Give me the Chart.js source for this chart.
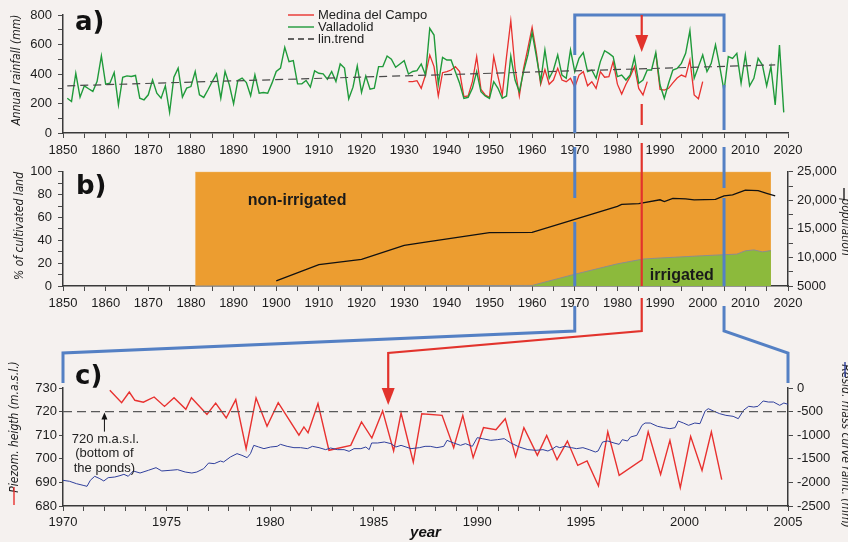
<!DOCTYPE html>
<html><head><meta charset="utf-8">
<script src="https://cdn.jsdelivr.net/npm/chart.js@4.4.1/dist/chart.umd.min.js"></script>
<style>
html,body{margin:0;padding:0;background:#f5f1ef;}
#wrap{position:relative;width:848px;height:542px;overflow:hidden;background:#f5f1ef;}
canvas{position:absolute;left:0;}
</style></head><body>
<div id="wrap">
<canvas id="ca" width="848" height="160" style="top:0px"></canvas>
<canvas id="cb" width="848" height="160" style="top:158px"></canvas>
<canvas id="cc" width="848" height="224" style="top:318px"></canvas>
<canvas id="overlay" style="top:0px;pointer-events:none"></canvas>
</div>
<script>
// ---------- DATA ----------
// a) annual rainfall (mm)
const RAIN_FIRST_YEAR = 1851;
const valladolidRain = [
236,214,405,243,320,300,282,350,522,331,
338,410,191,378,387,383,390,236,225,259,
360,270,236,320,140,378,440,243,304,315,
417,259,241,293,349,401,236,417,327,198,
356,372,342,252,394,270,275,270,338,417,
440,581,484,491,333,333,356,311,421,405,
401,365,417,349,468,440,232,311,455,275,
387,297,304,450,450,522,500,446,468,491,
400,417,423,468,393,710,664,330,513,495,
495,416,337,235,242,303,416,280,251,235,
348,303,235,251,522,359,280,416,529,680,
520,348,563,371,427,529,393,371,563,416,
506,545,416,427,371,484,558,540,518,382,
393,359,393,513,337,359,427,427,545,325,
235,337,427,438,472,540,694,371,450,529,
416,472,597,450,285,518,506,540,337,529,
320,371,506,461,320,450,190,597,140];
const MEDINA_FIRST_YEAR = 1931;
const medinaRain = [
348,348,355,303,393,529,450,251,409,416,
427,450,416,246,251,348,518,296,258,242,
518,382,258,518,761,439,251,439,574,717,
545,330,430,331,359,438,359,348,371,310,
393,416,320,348,302,416,378,382,484,331,
264,331,384,450,302,258,348,null,540,296,
291,303,340,373,393,380,495,258,232,348];
const trendYears = [1851, 2017];
const trendRain = [320, 462];

// b) cultivated land and population
const cultivatedYears = [1881, 2016];
const cultivatedTotal = [100, 100];
const irrigatedYears = [1881,1960,1970,1980,1986,1990,2000,2005,2008,2010,2012,2014,2016];
const irrigatedPct   = [0,0.5,10.3,19.4,23.6,24.5,26.5,27.4,27.9,30.8,31.6,29.9,31];
const popYears = [1900,1910,1920,1930,1935,1950,1960,1970,1980,1981,1985,1990,1991,1993,1996,1998,2003,2005,2007,2010,2013,2015,2017];
const popVals  = [5900,8760,9670,12120,12690,14340,14400,16680,18960,19300,19410,20100,19800,20330,20270,20100,20160,20780,20950,21800,21700,21240,20780];

// c) piezometric height and residual mass curve
const pondYears = [1970, 2005];
const pondLevel = [720, 720];
const piezoYears = [1972.26,1972.83,1973.2,1973.47,1973.88,1974.4,1974.9,1975.36,1975.93,1976.2,1976.95,1977.37,1977.88,1978.34,1978.84,1979.32,1979.85,1980.39,1981.39,1981.63,1981.83,1982.31,1982.84,1983.89,1984.41,1984.91,1985.43,1985.96,1986.32,1986.91,1987.32,1988.3,1988.86,1989.3,1989.8,1990.3,1990.9,1991.35,1991.85,1992.25,1992.9,1993.35,1993.85,1994.35,1994.85,1995.3,1995.85,1996.3,1996.85,1997.95,1998.25,1998.85,1999.3,1999.8,2000.3,2000.85,2001.3,2001.8];
const piezoLevel = [729,723.8,728.3,724.8,724,726.2,722.2,725.9,721,725.9,718.8,723.6,717.3,725.1,704.3,725.8,713.8,723.8,710,713.5,711,723.4,703.6,705.7,715.6,708.8,720.3,703.3,719.4,698.6,719.1,718.4,704.7,718.4,700.5,713.2,712.3,717,701,713.2,701.5,709.9,699.6,707.5,697.2,699.1,688.5,711.4,693,699.6,711.4,693.4,707.8,687.8,709.5,695.1,711.4,691.2];
const massYears = [1970.0,1970.32,1970.65,1970.97,1971.16,1971.32,1971.53,1971.78,1971.97,1972.18,1972.5,1972.75,1972.94,1973.15,1973.39,1973.72,1974.12,1974.49,1974.77,1975.17,1975.53,1975.9,1976.22,1976.46,1976.79,1977.03,1977.3,1977.6,1977.75,1978.08,1978.4,1978.64,1978.89,1979.05,1979.21,1979.45,1979.7,1980.02,1980.34,1980.5,1980.82,1981.15,1981.47,1981.8,1982.04,1982.36,1982.68,1982.92,1983.25,1983.57,1983.81,1984.05,1984.38,1984.62,1984.78,1984.9,1985.19,1985.51,1985.83,1986.07,1986.32,1986.56,1986.8,1987.21,1987.48,1987.73,1988.05,1988.38,1988.54,1988.86,1989.19,1989.43,1989.76,1990.0,1990.24,1990.65,1990.97,1991.3,1991.62,1992.03,1992.44,1992.84,1993.17,1993.41,1993.65,1993.81,1993.98,1994.22,1994.55,1994.79,1995.1,1995.4,1995.7,1995.83,1996.05,1996.3,1996.6,1996.85,1997.0,1997.25,1997.4,1997.7,1997.95,1998.1,1998.35,1998.7,1999.0,1999.3,1999.55,1999.7,1999.95,2000.2,2000.5,2000.75,2001.0,2001.15,2001.4,2001.7,2002.0,2002.35,2002.6,2002.85,2003.1,2003.35,2003.55,2003.8,2004.05,2004.3,2004.6,2004.8,2005.0];
const massRes = [-1956,-1977,-2027,-2062,-2083,-1956,-1871,-1921,-1970,-1900,-1886,-1857,-1829,-1871,-1758,-1801,-1744,-1688,-1758,-1744,-1730,-1780,-1801,-1780,-1709,-1589,-1603,-1547,-1568,-1462,-1391,-1427,-1476,-1391,-1215,-1250,-1285,-1250,-1236,-1194,-1236,-1264,-1264,-1285,-1236,-1264,-1306,-1271,-1306,-1306,-1342,-1285,-1285,-1250,-1306,-1165,-1165,-1144,-1179,-1250,-1215,-1250,-1285,-1264,-1236,-1236,-1264,-1236,-1109,-1165,-1215,-1179,-1236,-1052,-1073,-1109,-1095,-1073,-1165,-1250,-1306,-1320,-1306,-1335,-1285,-1236,-1264,-1236,-1264,-1285,-1264,-1306,-1356,-1335,-1144,-1123,-1165,-1194,-1095,-1123,-1038,-1003,-791,-742,-742,-812,-840,-862,-840,-699,-742,-791,-742,-756,-487,-438,-487,-544,-579,-600,-650,-473,-388,-403,-388,-275,-297,-297,-367,-318,-346];

// highlighted periods / events
const zoomPeriod = [1970, 2005];
const eventYear = 1985.7;

// ---------- STYLE HELPERS ----------
const FONT = "'Liberation Sans', Arial, Helvetica, sans-serif";
const NARROW = "'Liberation Sans Narrow', 'Arial Narrow', 'DejaVu Sans Condensed', sans-serif";
const TXT = '#1c1c1c';
const pts = (xs, ys) => xs.map((x, i) => ({x: x, y: ys[i]}));

function axis(o) {
  return {
    type: 'linear', position: o.position, min: o.min, max: o.max, z: o.z || 0,
    grid: {display: true, drawOnChartArea: false, drawTicks: true, tickLength: o.tickLength || 5, color: '#4a4a4a', lineWidth: 1},
    border: {display: true, color: '#3a3a3a', width: 1.5},
    ticks: {stepSize: o.step, autoSkip: false, maxRotation: 0, minRotation: 0, padding: o.padding === undefined ? 5 : o.padding,
            color: TXT, font: {family: FONT, size: 13}, callback: o.cb},
    title: o.title || {display: false},
    afterFit: o.fit
  };
}
function rotText(ctx, text, x, y, ang, font, color) {
  ctx.save(); ctx.translate(x, y); ctx.rotate(ang);
  ctx.font = font; ctx.fillStyle = color; ctx.textAlign = 'center'; ctx.textBaseline = 'middle';
  ctx.fillText(text, 0, 0); ctx.restore();
}
function panelLabel(ctx, t, x, y) {
  ctx.save(); ctx.font = "bold 26px 'DejaVu Sans', " + FONT; ctx.fillStyle = '#111'; ctx.textAlign = 'left'; ctx.textBaseline = 'alphabetic';
  ctx.fillText(t, x, y); ctx.restore();
}
const common = {type: 'line', responsive: false, animation: false, events: []};
const basePlugins = {legend: {display: false}, tooltip: {enabled: false}};

// ---------- CHART A ----------
const annA = {
  id: 'annA',
  afterDraw(c) {
    const ctx = c.ctx;
    rotText(ctx, 'Annual rainfall (mm)', 17, 70, -Math.PI / 2, "italic 12px " + NARROW, '#222');
    panelLabel(ctx, 'a)', 75, 30);
    const items = [
      ['Medina del Campo', '#e8312f', []],
      ['Valladolid', '#1f9a3a', []],
      ['lin.trend', '#333', [6, 4]]
    ];
    items.forEach((it, i) => {
      const y = 15 + i * 12;
      ctx.save();
      ctx.strokeStyle = it[1]; ctx.lineWidth = 1.4; ctx.setLineDash(it[2]);
      ctx.beginPath(); ctx.moveTo(288, y); ctx.lineTo(314, y); ctx.stroke();
      ctx.restore();
      ctx.save(); ctx.font = "13px " + FONT; ctx.fillStyle = '#222'; ctx.textBaseline = 'middle'; ctx.textAlign = 'left';
      ctx.fillText(it[0], 318, y + 0.5); ctx.restore();
    });
  }
};
const chartA = new Chart(document.getElementById('ca'), Object.assign({}, common, {
  data: {datasets: [
    {label: 'lin.trend', data: pts(trendYears, trendRain), borderColor: '#4a4a4a', borderWidth: 1.2, borderDash: [8, 5], pointRadius: 0},
    {label: 'Valladolid', data: valladolidRain.map((v, i) => ({x: RAIN_FIRST_YEAR + i, y: v})), borderColor: '#1f9a3a', borderWidth: 1.4, pointRadius: 0},
    {label: 'Medina del Campo', data: medinaRain.map((v, i) => ({x: MEDINA_FIRST_YEAR + i, y: v})), borderColor: '#e8312f', borderWidth: 1.3, pointRadius: 0, spanGaps: false}
  ]},
  options: {
    responsive: false, animation: false, events: [],
    layout: {padding: {left: 0, right: 60, top: 15, bottom: 0}},
    plugins: basePlugins,
    scales: {
      x: axis({position: 'bottom', min: 1850, max: 2020, step: 5, padding: 5, cb: v => v % 10 === 0 ? String(v) : '', fit: s => { s.height = 27; }}),
      y: axis({position: 'left', min: 0, max: 800, step: 100, padding: 6, cb: v => v % 200 === 0 ? String(v) : '', fit: s => { s.width = 63; }})
    }
  },
  plugins: [annA]
}));

// ---------- CHART B ----------
const annB = {
  id: 'annB',
  afterDraw(c) {
    const ctx = c.ctx, x = c.scales.x, y = c.scales.y;
    rotText(ctx, '% of cultivated land', 20, 68, -Math.PI / 2, "italic 12px " + NARROW, '#222');
    panelLabel(ctx, 'b)', 76, 36);
    ctx.save(); ctx.font = "bold 16px " + FONT; ctx.fillStyle = '#1a1a1a'; ctx.textAlign = 'center'; ctx.textBaseline = 'middle';
    ctx.fillText('non-irrigated', x.getPixelForValue(1904.9), y.getPixelForValue(74.4));
    ctx.fillText('irrigated', x.getPixelForValue(1995.1), y.getPixelForValue(9.2));
    ctx.restore();
    rotText(ctx, 'population', 845, 69, Math.PI / 2, "italic 12px " + NARROW, '#222');
    ctx.save(); ctx.strokeStyle = '#111'; ctx.lineWidth = 1.3;
    ctx.beginPath(); ctx.moveTo(844, 30); ctx.lineTo(844, 42); ctx.stroke(); ctx.restore();
  }
};
const chartB = new Chart(document.getElementById('cb'), Object.assign({}, common, {
  data: {datasets: [
    {label: 'population', data: pts(popYears, popVals), yAxisID: 'y2', borderColor: '#111', borderWidth: 1.3, pointRadius: 0, fill: false, order: 1},
    {label: 'irrigated', data: pts(irrigatedYears, irrigatedPct), yAxisID: 'y', borderColor: '#8d8d8d', borderWidth: 1, backgroundColor: '#8cba3c', pointRadius: 0, fill: 'origin', order: 2},
    {label: 'non-irrigated', data: pts(cultivatedYears, cultivatedTotal), yAxisID: 'y', borderColor: '#f0b461', borderWidth: 1, backgroundColor: '#ec9d30', pointRadius: 0, fill: 'origin', order: 3}
  ]},
  options: {
    responsive: false, animation: false, events: [],
    layout: {padding: {left: 0, right: 0, top: 11, bottom: 0}},
    plugins: basePlugins,
    scales: {
      x: axis({position: 'bottom', min: 1850, max: 2020, step: 5, padding: 5, z: 1, cb: v => v % 10 === 0 ? String(v) : '', fit: s => { s.height = 32; }}),
      y: axis({position: 'left', min: 0, max: 100, step: 10, padding: 6, cb: v => v % 20 === 0 ? String(v) : '', fit: s => { s.width = 63; }}),
      y2: axis({position: 'right', min: 5000, max: 25000, step: 2500, padding: 4, cb: v => v === 5000 ? '5000' : (v % 5000 === 0 ? v.toLocaleString('en-US') : ''), fit: s => { s.width = 60; }})
    }
  },
  plugins: [annB]
}));

// ---------- CHART C ----------
const annC = {
  id: 'annC',
  afterDraw(c) {
    const ctx = c.ctx, x = c.scales.x, y = c.scales.y;
    panelLabel(ctx, 'c)', 75, 66);
    rotText(ctx, 'Piezom. heigth (m.a.s.l.)', 15, 109, -Math.PI / 2, "italic 12px " + NARROW, '#222');
    ctx.save(); ctx.strokeStyle = '#e8312f'; ctx.lineWidth = 1.4;
    ctx.beginPath(); ctx.moveTo(14, 169); ctx.lineTo(14, 187); ctx.stroke(); ctx.restore();
    rotText(ctx, 'Resid. mass curve raint. (mm)', 845, 128, Math.PI / 2, "italic 12px " + NARROW, '#222');
    ctx.save(); ctx.strokeStyle = '#2f3f9c'; ctx.lineWidth = 1.4;
    ctx.beginPath(); ctx.moveTo(845, 44); ctx.lineTo(845, 59); ctx.stroke(); ctx.restore();
    // 720 m.a.s.l. annotation
    const ax = x.getPixelForValue(1972), ly = y.getPixelForValue(720);
    ctx.save(); ctx.strokeStyle = '#111'; ctx.fillStyle = '#111'; ctx.lineWidth = 1;
    ctx.beginPath(); ctx.moveTo(ax, ly + 20); ctx.lineTo(ax, ly + 6); ctx.stroke();
    ctx.beginPath(); ctx.moveTo(ax, ly + 1); ctx.lineTo(ax - 3, ly + 8); ctx.lineTo(ax + 3, ly + 8); ctx.closePath(); ctx.fill();
    ctx.font = "13px " + FONT; ctx.fillStyle = '#222'; ctx.textAlign = 'center'; ctx.textBaseline = 'middle';
    ctx.fillText('720 m.a.s.l.', ax + 1, ly + 28);
    ctx.fillText('(bottom of', ax, ly + 42);
    ctx.fillText('the ponds)', ax, ly + 57);
    ctx.restore();
  }
};
const chartC = new Chart(document.getElementById('cc'), Object.assign({}, common, {
  data: {datasets: [
    {label: 'bottom of the ponds', data: pts(pondYears, pondLevel), yAxisID: 'y', borderColor: '#5a5a5a', borderWidth: 1.4, borderDash: [9, 5], pointRadius: 0},
    {label: 'Resid. mass curve', data: pts(massYears, massRes), yAxisID: 'y2', borderColor: '#2f3f9c', borderWidth: 1, pointRadius: 0},
    {label: 'Piezom. heigth', data: pts(piezoYears, piezoLevel), yAxisID: 'y', borderColor: '#e8312f', borderWidth: 1.4, pointRadius: 0}
  ]},
  options: {
    responsive: false, animation: false, events: [],
    layout: {padding: {left: 0, right: 0, top: 70, bottom: 0}},
    plugins: basePlugins,
    scales: {
      x: axis({position: 'bottom', min: 1970, max: 2005, step: 1, padding: 4, cb: v => v % 5 === 0 ? String(v) : '',
               title: {display: true, text: 'year', color: '#111', font: {family: FONT, size: 15, weight: 'bold', style: 'italic'}, padding: {top: 0, bottom: 0}},
               fit: s => { s.height = 36; }}),
      y: axis({position: 'left', min: 680, max: 730, step: 10, padding: 2, tickLength: 4, cb: v => String(v), fit: s => { s.width = 63; }}),
      y2: axis({position: 'right', min: -2500, max: 0, step: 500, padding: 4, cb: v => String(v), fit: s => { s.width = 60; }})
    }
  },
  plugins: [annC]
}));

// ---------- CONNECTORS (overlay) ----------
function drawOverlay() {
  const ov = document.getElementById('overlay');
  const dpr = window.devicePixelRatio || 1;
  ov.width = 848 * dpr; ov.height = 542 * dpr; ov.style.width = '848px'; ov.style.height = '542px';
  const ctx = ov.getContext('2d'); ctx.scale(dpr, dpr);
  const offB = 158, offC = 318;
  const xa = v => chartA.scales.x.getPixelForValue(v);
  const xc = v => chartC.scales.x.getPixelForValue(v);
  const topA = chartA.chartArea.top, botA = chartA.chartArea.bottom;
  const botB = chartB.chartArea.bottom + offB;
  const topC = chartC.chartArea.top + offC;
  const joinY = botB + 45, slantY = topC - 35;
  const x1 = xa(zoomPeriod[0]), x2 = xa(zoomPeriod[1]);
  const seg = (x, a, b) => { ctx.beginPath(); ctx.moveTo(x, a); ctx.lineTo(x, b); ctx.stroke(); };
  // blue frame
  ctx.strokeStyle = '#5480c4'; ctx.lineWidth = 3; ctx.lineJoin = 'miter'; ctx.lineCap = 'butt';
  ctx.beginPath(); ctx.moveTo(x1, 55); ctx.lineTo(x1, topA); ctx.lineTo(x2, topA); ctx.lineTo(x2, 52); ctx.stroke();
  seg(x1, 76, botA); seg(x2, 85, botA - 3);
  seg(x1, botA + 14, 198); seg(x1, 222, botB);
  seg(x2, botA + 14, 188); seg(x2, 198, botB);
  ctx.beginPath(); ctx.moveTo(x1, botB + 20); ctx.lineTo(x1, joinY); ctx.lineTo(xc(zoomPeriod[0]), slantY); ctx.lineTo(xc(zoomPeriod[0]), topC - 5); ctx.stroke();
  ctx.beginPath(); ctx.moveTo(x2, botB + 20); ctx.lineTo(x2, joinY); ctx.lineTo(xc(zoomPeriod[1]), slantY); ctx.lineTo(xc(zoomPeriod[1]), topC - 5); ctx.stroke();
  // red event marker
  const xr = xa(eventYear), xcr = xc(eventYear);
  ctx.strokeStyle = '#e2332c'; ctx.fillStyle = '#e2332c'; ctx.lineWidth = 2.2;
  seg(xr, topA, topA + 22);
  ctx.beginPath(); ctx.moveTo(xr - 6.5, topA + 20); ctx.lineTo(xr + 6.5, topA + 20); ctx.lineTo(xr, topA + 37); ctx.closePath(); ctx.fill();
  seg(xr, 104, 125);
  seg(xr, botA + 10, botB);
  ctx.beginPath(); ctx.moveTo(xr, botB + 12); ctx.lineTo(xr, joinY); ctx.lineTo(xcr, slantY); ctx.lineTo(xcr, topC); ctx.stroke();
  ctx.beginPath(); ctx.moveTo(xcr - 6.5, topC); ctx.lineTo(xcr + 6.5, topC); ctx.lineTo(xcr, topC + 17); ctx.closePath(); ctx.fill();
}
drawOverlay();
</script>
</body></html>
